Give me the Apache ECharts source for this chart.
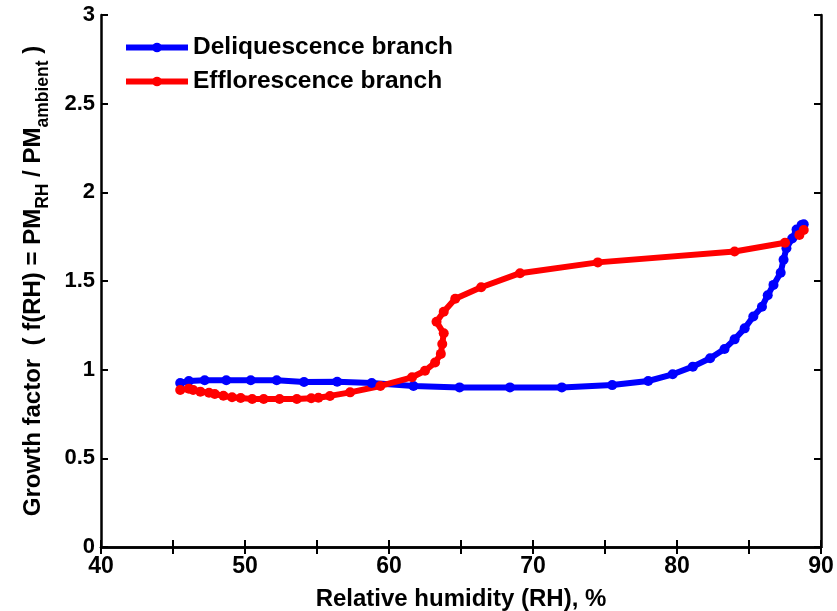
<!DOCTYPE html>
<html>
<head>
<meta charset="utf-8">
<script src="https://cdn.jsdelivr.net/npm/echarts@6/dist/echarts.min.js"></script>
<style>html,body{margin:0;padding:0;background:#fff;}#c{width:837px;height:611px;}</style>
</head>
<body>
<div id="c"></div>
<script>
const deliquescenceRH = [45.5,46.1,47.2,48.7,50.4,52.2,54.1,56.4,58.8,61.7,64.9,68.4,72.0,75.5,78.0,79.7,81.1,82.3,83.3,84.0,84.7,85.3,85.9,86.3,86.7,87.2,87.4,87.6,88.0,88.3,88.65,88.8];
const deliquescenceGF = [0.925,0.936,0.94,0.94,0.94,0.94,0.93,0.932,0.925,0.908,0.90,0.90,0.90,0.913,0.936,0.974,1.017,1.064,1.117,1.171,1.233,1.30,1.355,1.42,1.478,1.547,1.62,1.685,1.74,1.79,1.816,1.82];
const efflorescenceRH = [88.8,88.5,87.5,84.0,74.5,69.1,66.4,64.6,63.8,63.3,63.8,63.7,63.6,63.2,62.5,61.6,59.4,57.3,55.9,55.1,54.6,53.6,52.4,51.3,50.5,49.7,49.1,48.5,47.9,47.5,46.9,46.4,46.1,45.5];
const efflorescenceGF = [1.788,1.76,1.716,1.666,1.605,1.544,1.465,1.40,1.327,1.27,1.205,1.145,1.089,1.04,0.994,0.957,0.908,0.872,0.852,0.842,0.839,0.835,0.835,0.835,0.835,0.84,0.844,0.853,0.863,0.87,0.876,0.885,0.893,0.885];
const seriesNames = ['Deliquescence branch','Efflorescence branch'];
const xTitle = 'Relative humidity (RH), %';

const pair = (xs, ys) => xs.map((x, i) => [x, ys[i]]);
const chart = echarts.init(document.getElementById('c'));
const font = 'Arial, "Liberation Sans", sans-serif';
const axisLine = {show: true, lineStyle: {color: '#000', width: 2.5}};
const tick = {show: true, inside: true, length: 7, lineStyle: {color: '#000', width: 2}};
chart.setOption({
  animation: false,
  backgroundColor: '#fff',
  grid: {left: 101, right: 16, top: 15, bottom: 64, containLabel: false, outerBoundsMode: 'none'},
  legend: {
    orient: 'vertical', left: 118, top: 30, itemWidth: 62, itemHeight: 12, itemGap: 9,
    lineStyle: {width: 6},
    textStyle: {fontFamily: font, fontWeight: 'bold', fontSize: 24.5, color: '#000'},
    data: seriesNames
  },
  xAxis: [{
    type: 'value', min: 40, max: 90, interval: 5,
    name: xTitle, nameLocation: 'middle', nameGap: 40,
    nameTextStyle: {fontFamily: font, fontWeight: 'bold', fontSize: 24, color: '#000'},
    axisLine: axisLine, axisTick: tick, splitLine: {show: false},
    axisLabel: {fontFamily: font, fontWeight: 'bold', fontSize: 23, color: '#000', margin: 8,
      formatter: v => (v % 10 === 0 ? String(v) : '')}
  }, {
    type: 'value', min: 40, max: 90, interval: 5, position: 'top',
    axisLine: axisLine, axisTick: tick, axisLabel: {show: false}, splitLine: {show: false}
  }],
  yAxis: [{
    type: 'value', min: 0, max: 3, interval: 0.5,
    axisLine: axisLine, axisTick: tick, splitLine: {show: false},
    axisLabel: {fontFamily: font, fontWeight: 'bold', fontSize: 22, color: '#000', margin: 6}
  }, {
    type: 'value', min: 0, max: 3, interval: 0.5, position: 'right',
    axisLine: axisLine, axisTick: tick, axisLabel: {show: false}, splitLine: {show: false}
  }],
  graphic: [{
    type: 'text', x: 30, y: 281, rotation: Math.PI / 2,
    style: {
      text: '{m|Growth factor  ( f(RH) = PM}{s|RH}{m| / PM}{s|ambient}{m| )}',
      align: 'center', verticalAlign: 'middle',
      rich: {
        m: {fontFamily: font, fontWeight: 'bold', fontSize: 24, fill: '#000', lineHeight: 30, verticalAlign: 'bottom'},
        s: {fontFamily: font, fontWeight: 'bold', fontSize: 17.5, fill: '#000', lineHeight: 30, verticalAlign: 'bottom', padding: [0,0,-7,0]}
      }
    }
  }],
  series: [{
    name: seriesNames[0], type: 'line', data: pair(deliquescenceRH, deliquescenceGF),
    symbol: 'circle', symbolSize: 10, color: '#0000ff',
    lineStyle: {color: '#0000ff', width: 6}, itemStyle: {color: '#0000ff'}
  }, {
    name: seriesNames[1], type: 'line', data: pair(efflorescenceRH, efflorescenceGF),
    symbol: 'circle', symbolSize: 10, color: '#ff0000',
    lineStyle: {color: '#ff0000', width: 6}, itemStyle: {color: '#ff0000'}
  }]
});
</script>
</body>
</html>
